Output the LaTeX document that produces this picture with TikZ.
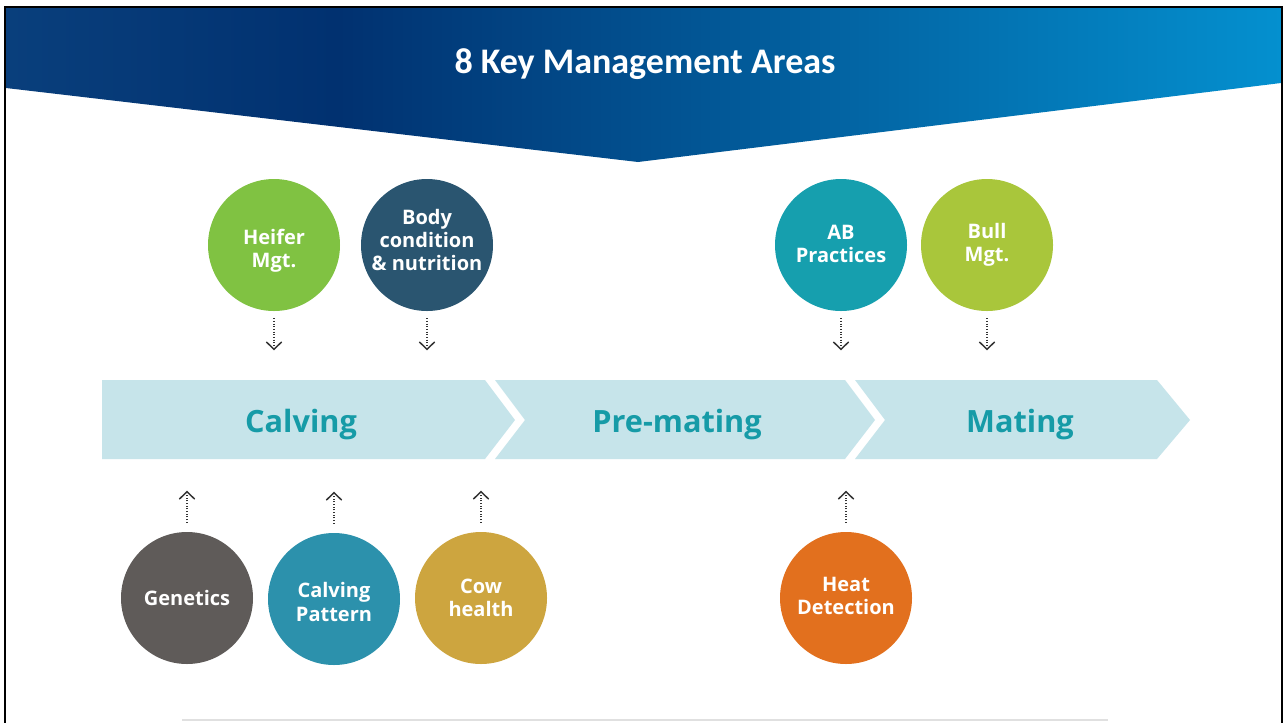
\documentclass[tikz,border=0pt]{standalone}
\usepackage{fontspec}
\setmainfont{Open Sans}
\newfontfamily\titlefont{Carlito}
\usetikzlibrary{arrows.meta,calc}
\definecolor{hdA}{HTML}{093F7C}
\definecolor{hdB}{HTML}{013170}
\definecolor{hdC}{HTML}{0490CF}
\definecolor{barcol}{HTML}{C6E4EA}
\definecolor{stagecol}{HTML}{169BA7}
\definecolor{heifercol}{HTML}{80C242}
\definecolor{bodycol}{HTML}{2A5570}
\definecolor{abcol}{HTML}{169FAE}
\definecolor{bullcol}{HTML}{A9C63B}
\definecolor{genecol}{HTML}{5F5B59}
\definecolor{patcol}{HTML}{2C91AC}
\definecolor{cowcol}{HTML}{CDA53F}
\definecolor{heatcol}{HTML}{E2701E}
\definecolor{arrcol}{HTML}{333333}
\pgfdeclarehorizontalshading{hdr}{100bp}{color(0bp)=(hdA); color(25bp)=(hdA); color(38bp)=(hdB); color(75bp)=(hdC); color(100bp)=(hdC)}
\tikzset{
  area/.style={circle, minimum size=99pt, inner sep=0pt},
  areatext/.style={inner sep=0pt, text=white, align=center,
    font=\bfseries\fontsize{15}{17.3}\selectfont},
  stagelabel/.style={anchor=base, text=stagecol, font=\bfseries\fontsize{23}{27}\selectfont},
  arr/.style={draw=arrcol, line width=0.9pt, dash pattern=on 0.9pt off 1.1pt,
    -{Straight Barb[length=5.5pt,width=11.5pt,line width=1.1pt]}},
}
\begin{document}
\begin{tikzpicture}[x=0.75pt,y=-0.75pt]
\useasboundingbox (0,0) rectangle (1285,722);
\fill[white] (0,0) rectangle (1285,722);
% header
\shade[shading=hdr] (6,8) -- (1281,8) -- (1281,83) -- (638,162) -- (6,88) -- cycle;
\draw[black, line width=1.5pt] (5,7) -- (1282,7);
\draw[black, line width=1.5pt] (5,6) -- (5,730);
\draw[black, line width=1.5pt] (1282,6) -- (1282,730);
\node[anchor=base, text=white, font=\titlefont\bfseries\fontsize{27}{32}\selectfont] (title) at (645,73) {8 Key Management Areas};
% stage bar
\fill[barcol] (102,380) -- (485,380) -- (515,420) -- (485,459) -- (102,459) -- cycle;
\fill[barcol] (495,380) -- (845,380) -- (875,420) -- (845,459) -- (495,459) -- (525,420) -- cycle;
\fill[barcol] (855,380) -- (1157,380) -- (1190,420) -- (1157,459) -- (855,459) -- (885,420) -- cycle;
\node[stagelabel] (calving) at (301,432) {Calving};
\node[stagelabel] (premating) at (677,432) {Pre-mating};
\node[stagelabel] (mating) at (1020,432) {Mating};
% circles
\node[area, fill=heifercol] (heifer) at (274,245) {};
\node[area, fill=bodycol] (body) at (427,245) {};
\node[area, fill=abcol] (ab) at (841,245) {};
\node[area, fill=bullcol] (bull) at (987,245) {};
\node[area, fill=genecol] (genetics) at (187,598) {};
\node[area, fill=patcol] (pattern) at (334,599) {};
\node[area, fill=cowcol] (cow) at (481,598) {};
\node[area, fill=heatcol] (heat) at (846,598) {};
% circle texts
\node[areatext] (heiferT) at ($(heifer)+(0,6)$) {Heifer\\Mgt.};
\node[areatext] (bodyT) at ($(body)+(0,-5)$) {Body\\condition\\\& nutrition};
\node[areatext] (abT) at ($(ab)+(0,-1)$) {AB\\Practices};
\node[areatext] (bullT) at ($(bull)+(0,0)$) {Bull\\Mgt.};
\node[areatext] (geneticsT) at ($(genetics)+(0,0)$) {Genetics};
\node[areatext] (patternT) at ($(pattern)+(0,3)$) {Calving\\Pattern};
\node[areatext] (cowT) at ($(cow)+(0,0)$) {Cow\\health};
\node[areatext] (heatT) at ($(heat)+(0,-2)$) {Heat\\Detection};
% arrows
\foreach \c in {heifer,body,ab,bull}{
  \draw[arr] ($(\c.south)+(0,7)$) -- ($(\c.south)+(0,39)$);
}
\foreach \c in {genetics,pattern,cow,heat}{
  \draw[arr] ($(\c.north)+(0,-9)$) -- ($(\c.north)+(0,-41)$);
}
% faint bottom line
\draw[black!12, line width=0.8pt] (182,720) -- (1108,720);
\end{tikzpicture}
\end{document}
